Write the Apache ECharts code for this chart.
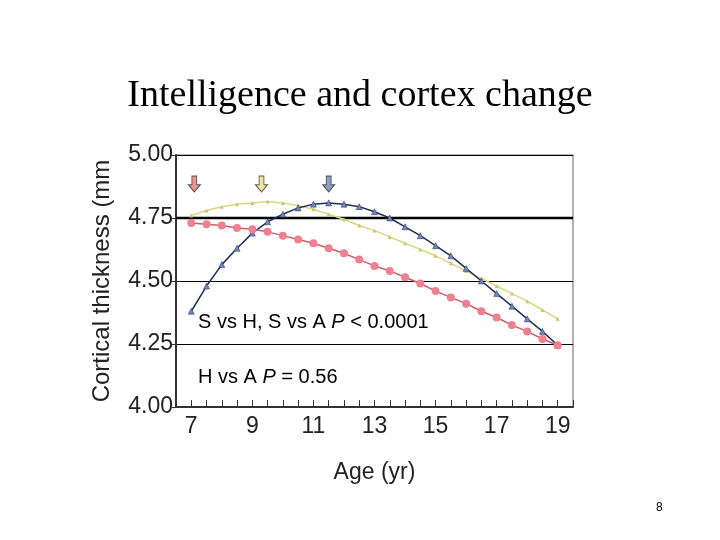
<!DOCTYPE html>
<html><head><meta charset="utf-8">
<script src="https://cdn.jsdelivr.net/npm/echarts@6/dist/echarts.min.js"></script>
<style>body{margin:0;background:#fff}#c{width:720px;height:540px}</style>
</head><body><div id="c"></div>
<script>
const ages = [7,7.5,8,8.5,9,9.5,10,10.5,11,11.5,12,12.5,13,13.5,14,14.5,15,15.5,16,16.5,17,17.5,18,18.5,19];
const redVals = [4.73,4.725,4.72,4.71,4.705,4.695,4.68,4.665,4.65,4.63,4.61,4.585,4.56,4.54,4.515,4.49,4.46,4.435,4.41,4.38,4.355,4.325,4.30,4.27,4.245];
const blueVals = [4.38,4.48,4.565,4.63,4.69,4.735,4.765,4.79,4.805,4.81,4.805,4.795,4.775,4.75,4.715,4.68,4.64,4.60,4.55,4.50,4.45,4.40,4.35,4.30,4.245];
const yellowVals = [4.76,4.78,4.795,4.805,4.81,4.815,4.81,4.80,4.785,4.765,4.745,4.72,4.70,4.675,4.65,4.625,4.60,4.57,4.54,4.51,4.48,4.45,4.42,4.385,4.35];
const peakAges = [7.1, 9.3, 11.5];
const peakY = 4.885;
const arrowColors = ['#e87a7a', '#e8e08a', '#6f88b8'];

const font = '"Liberation Sans", Arial, sans-serif';
const arrow = 'path://M3,0 L7,0 L7,6 L10,6 L5,11 L0,6 L3,6 Z';
const pair = vals => ages.map((a, i) => [a, vals[i]]);
const noteRich = { n: { fontFamily: font, fontSize: 20, color: '#222' }, i: { fontFamily: font, fontSize: 20, fontStyle: 'italic', color: '#222' } };

const chart = echarts.init(document.getElementById('c'));
chart.setOption({
  animation: false,
  title: [
    { text: 'Intelligence and cortex change', left: 'center', top: 72,
      textStyle: { fontFamily: 'Liberation Serif', fontSize: 38, fontWeight: 'normal', color: '#000' } },
    { text: '8', left: 651, top: 497, textStyle: { fontFamily: 'Liberation Sans', fontSize: 12, fontWeight: 'normal', color: '#000' } }
  ],
  graphic: [
    { type: 'text', left: 198, top: 312, style: { text: '{n|S vs H, S vs A }{i|P}{n| < 0.0001}', rich: noteRich } },
    { type: 'text', left: 198, top: 367, style: { text: '{n|H vs A }{i|P}{n| = 0.56}', rich: noteRich } },
    { type: 'rect', shape: { x: 176, y: 155, width: 397, height: 252 }, style: { fill: 'none', stroke: '#999', lineWidth: 1.5 } }
  ],
  grid: { left: 176, top: 155, width: 397, height: 252 },
  xAxis: {
    type: 'value', min: 6.5, max: 19.5, interval: 0.5,
    name: 'Age (yr)', nameLocation: 'middle', nameGap: 54,
    nameTextStyle: { fontFamily: font, fontSize: 23, color: '#222' },
    axisLine: { lineStyle: { color: '#333', width: 2 } },
    axisTick: { inside: true, length: 7, lineStyle: { color: '#333' } },
    axisLabel: { fontFamily: font, fontSize: 23, color: '#222', margin: 8,
      formatter: v => (v % 2 === 1 ? String(v) : '') },
    splitLine: { show: false }
  },
  yAxis: {
    type: 'value', min: 4, max: 5, interval: 0.25,
    name: 'Cortical thickness (mm', nameLocation: 'middle', nameGap: 62,
    nameTextStyle: { fontFamily: font, fontSize: 24, color: '#222' },
    axisLine: { show: true, lineStyle: { color: '#333', width: 2 } },
    axisTick: { show: true, length: 4, lineStyle: { color: '#333' } },
    axisLabel: { fontFamily: font, fontSize: 23, color: '#222', margin: 3, formatter: v => v.toFixed(2) },
    splitLine: { lineStyle: { color: '#000', width: 1 } }
  },
  series: [
    { type: 'line', data: pair(yellowVals), symbol: 'triangle', symbolSize: 4,
      lineStyle: { color: '#d8d880', width: 1.5 }, itemStyle: { color: '#c8c870' }, z: 3 },
    { type: 'line', data: pair(blueVals), symbol: 'triangle', symbolSize: 6,
      lineStyle: { color: '#1f2f5a', width: 1.5 }, itemStyle: { color: '#6f88b8', borderColor: '#1f2f5a', borderWidth: 0.5 }, z: 4 },
    { type: 'line', data: pair(redVals), symbol: 'circle', symbolSize: 8,
      lineStyle: { color: '#d05a6a', width: 1.5 }, itemStyle: { color: '#ee8090' }, z: 5 },
    { type: 'scatter', symbol: arrow, symbolSize: [12, 16],
      data: peakAges.map((a, i) => ({ value: [a, peakY], itemStyle: { color: arrowColors[i], borderColor: '#333', borderWidth: 1 } })), z: 6 },
    { type: 'line', data: [[6.5, 4.75], [19.5, 4.75]], symbol: 'none', silent: true,
      lineStyle: { color: '#000', width: 2.5 }, z: 2 }
  ]
});
</script></body></html>
